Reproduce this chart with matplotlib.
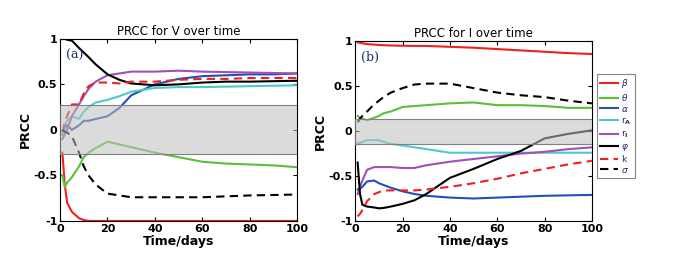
"""
PRCC of V and I over time, two panels with shared legend
"""
import matplotlib.pyplot as plt
import numpy as np

# sample times (days)
t_pts = [1, 2, 3, 5, 8, 10, 12, 15, 20, 25, 30, 40, 50, 60, 70, 80, 90, 100]

labels = [r'$\beta$', r'$\theta$', r'$\alpha$', r'r$_\mathbf{A}$', r'r$_\mathbf{I}$',
          r'$\varphi$', 'k', r'$\sigma$']

# ---- panel (a): PRCC for V ----
v_beta = [-0.25, -0.6, -0.8, -0.9, -0.97, -0.99, -1.0, -1.0, -1.0, -1.0, -1.0, -1.0, -1.0, -1.0, -1.0, -1.0, -1.0, -1.0]
v_theta = [-0.5, -0.63, -0.58, -0.52, -0.4, -0.3, -0.25, -0.2, -0.13, -0.16, -0.19, -0.25, -0.3, -0.35, -0.37, -0.38, -0.39, -0.41]
v_alpha = [-0.05, 0.02, 0.05, 0.0, 0.05, 0.1, 0.1, 0.12, 0.15, 0.24, 0.38, 0.5, 0.56, 0.59, 0.6, 0.61, 0.61, 0.62]
v_rA = [-0.05, 0.05, 0.1, 0.15, 0.12, 0.2, 0.25, 0.3, 0.33, 0.37, 0.42, 0.46, 0.47, 0.47, 0.475, 0.48, 0.485, 0.49]
v_rI = [-0.1, -0.05, 0.0, 0.15, 0.28, 0.37, 0.45, 0.53, 0.6, 0.62, 0.64, 0.64, 0.65, 0.64, 0.635, 0.63, 0.625, 0.62]
v_phi = [1.0, 1.0, 0.99, 0.98, 0.9, 0.85, 0.8, 0.72, 0.61, 0.55, 0.51, 0.49, 0.5, 0.52, 0.53, 0.53, 0.535, 0.54]
v_k = [-0.02, 0.08, 0.15, 0.28, 0.28, 0.4, 0.48, 0.52, 0.52, 0.51, 0.53, 0.53, 0.55, 0.56, 0.56, 0.57, 0.57, 0.57]
v_sigma = [0.0, -0.02, -0.03, -0.07, -0.25, -0.4, -0.5, -0.6, -0.7, -0.72, -0.74, -0.74, -0.74, -0.74, -0.73, -0.72, -0.715, -0.71]

# ---- panel (b): PRCC for I ----
i_beta = [0.99, 0.985, 0.98, 0.97, 0.965, 0.96, 0.958, 0.955, 0.952, 0.95, 0.95, 0.94, 0.93, 0.915, 0.9, 0.885, 0.87, 0.86]
i_theta = [0.17, 0.15, 0.14, 0.12, 0.15, 0.17, 0.2, 0.22, 0.27, 0.28, 0.29, 0.31, 0.32, 0.29, 0.29, 0.28, 0.26, 0.26]
i_alpha = [-0.65, -0.64, -0.62, -0.56, -0.55, -0.58, -0.6, -0.63, -0.67, -0.7, -0.72, -0.74, -0.75, -0.74, -0.73, -0.72, -0.715, -0.71]
i_rA = [-0.13, -0.13, -0.12, -0.1, -0.1, -0.1, -0.12, -0.14, -0.16, -0.18, -0.2, -0.24, -0.24, -0.24, -0.24, -0.24, -0.24, -0.24]
i_rI = [-0.7, -0.62, -0.55, -0.43, -0.4, -0.4, -0.4, -0.4, -0.41, -0.41, -0.38, -0.34, -0.31, -0.28, -0.25, -0.23, -0.2, -0.18]
i_phi = [-0.35, -0.7, -0.82, -0.84, -0.85, -0.86, -0.855, -0.84, -0.81, -0.77, -0.7, -0.52, -0.42, -0.31, -0.22, -0.08, -0.03, 0.01]
i_k = [-0.95, -0.92, -0.88, -0.78, -0.7, -0.68, -0.66, -0.66, -0.66, -0.66, -0.65, -0.62, -0.58, -0.53, -0.47, -0.42, -0.37, -0.33]
i_sigma = [0.1, 0.14, 0.17, 0.22, 0.3, 0.34, 0.38, 0.43, 0.48, 0.52, 0.53, 0.53, 0.48, 0.43, 0.4, 0.38, 0.34, 0.31]

colors = ['#f02020', '#5cbf3c', '#2050b8', '#4ec8d0', '#a050b8', 'black', '#f02020', 'black']
styles = ['-', '-', '-', '-', '-', '-', '--', '--']

panels = [
    ('PRCC for V over time', '(a)', 0.27,
     [v_beta, v_theta, v_alpha, v_rA, v_rI, v_phi, v_k, v_sigma]),
    ('PRCC for I over time', '(b)', 0.14,
     [i_beta, i_theta, i_alpha, i_rA, i_rI, i_phi, i_k, i_sigma]),
]

fig = plt.figure(figsize=(6.98, 2.59), dpi=100)
ax_pos = [[0.086, 0.147, 0.340, 0.703], [0.509, 0.147, 0.339, 0.693]]

handles = []
for (title, tag, band, series), pos in zip(panels, ax_pos):
    ax = fig.add_axes(pos)
    for vals, c, ls, lab in zip(series, colors, styles, labels):
        h, = ax.plot(t_pts, vals, color=c, ls=ls, lw=1.5, label=lab,
                     dashes=(4, 2.5) if ls == '--' else (None, None))
        if len(handles) < len(labels):
            handles.append(h)
    # insignificant band drawn over the lines
    ax.axhspan(-band, band, facecolor='0.75', alpha=0.55, zorder=5)
    ax.axhline(band, color='0.5', lw=0.8, zorder=6)
    ax.axhline(-band, color='0.5', lw=0.8, zorder=6)

    ax.set_xlim(0, 100)
    ax.set_ylim(-1, 1)
    ax.set_xticks([0, 20, 40, 60, 80, 100])
    ax.set_yticks([-1, -0.5, 0, 0.5, 1])
    ax.set_yticklabels(['-1', '-0.5', '0', '0.5', '1'])
    ax.tick_params(direction='in', top=True, right=True, length=3, labelsize=8, pad=2)
    for lbl in ax.get_xticklabels() + ax.get_yticklabels():
        lbl.set_fontweight('bold')
    ax.set_title(title, fontsize=8.5, pad=3)
    ax.set_xlabel('Time/days', fontsize=9, fontweight='bold', labelpad=1)
    ax.set_ylabel('PRCC', fontsize=9, fontweight='bold', labelpad=1)
    ax.text(0.025, 0.89, tag, transform=ax.transAxes, family='DejaVu Serif',
            fontsize=9, color='#1a2f6e', zorder=7)
    for sp in ax.spines.values():
        sp.set_linewidth(0.8)

leg = fig.legend(handles=handles, loc='upper left', bbox_to_anchor=(0.855, 0.715),
                 fontsize=6.5, frameon=True, fancybox=False, edgecolor='0.4',
                 handlelength=2.0, labelspacing=0.2, borderpad=0.35,
                 handletextpad=0.3, borderaxespad=0)
leg.get_frame().set_linewidth(0.8)
for txt in leg.get_texts():
    txt.set_color('#1a2f6e')

fig.savefig('out.png', dpi=100, facecolor='white')
plt.close(fig)
